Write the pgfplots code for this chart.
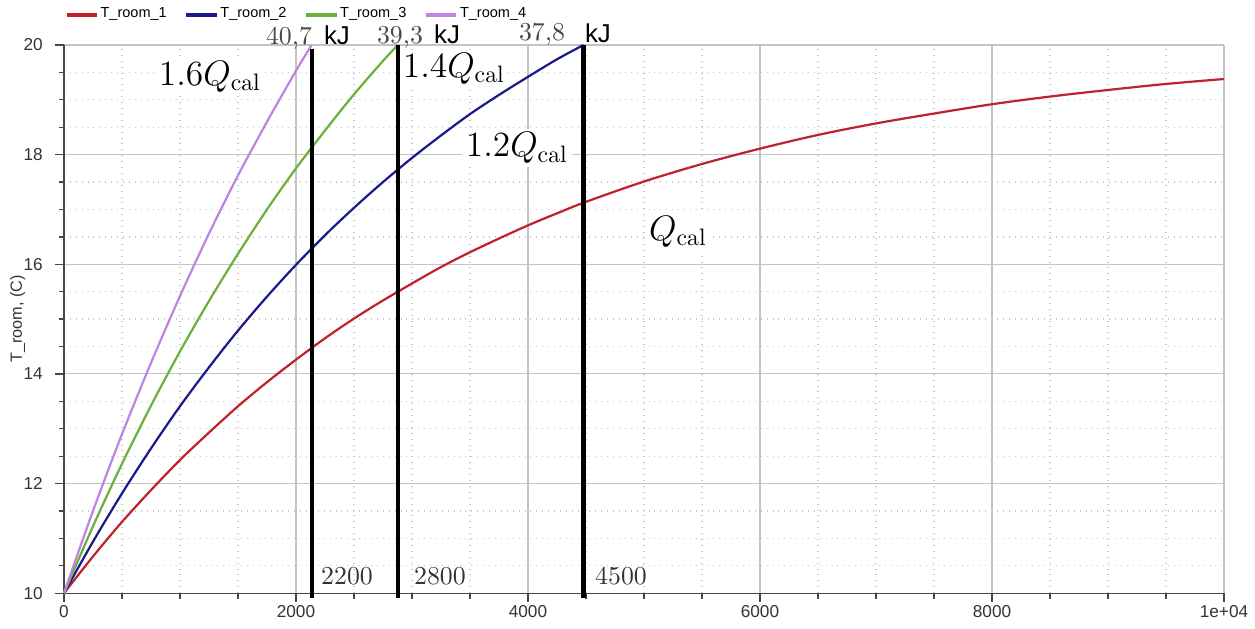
\documentclass[border=0pt]{standalone}
\usepackage{fontspec}
\setsansfont{Liberation Sans}
\usepackage{pgfplots}
\pgfplotsset{compat=1.18}

\definecolor{troomA}{HTML}{C0222C}
\definecolor{troomB}{HTML}{1A1A8A}
\definecolor{troomC}{HTML}{6CB03A}
\definecolor{troomD}{HTML}{BE84E4}
\definecolor{gridmaj}{HTML}{C4C4C4}
\definecolor{gridmin}{HTML}{C8C8C8}

\newcommand{\qlab}[1]{\fontsize{13.8}{15}\selectfont$#1Q_{\mathrm{cal}}$}
\newcommand{\elab}[1]{\fontsize{10.5}{12}\selectfont\color{black!72}#1}
\newcommand{\kj}{\fontsize{10.5}{12}\selectfont\sffamily kJ}
\newcommand{\tlab}[1]{\fontsize{10.5}{12}\selectfont\color{black!80}#1}

\begin{document}
\begin{tikzpicture}
\begin{axis}[
  scale only axis,
  width=471.5pt, height=222.8pt,
  xmin=0, xmax=10000, ymin=10, ymax=20,
  axis lines=left,
  axis line style={-, draw=black!72, line width=0.55pt},
  clip=false,
  xtick={0,2000,4000,6000,8000,10000},
  xticklabels={0,2000,4000,6000,8000,1e+04},
  ytick={10,12,14,16,18,20},
  minor x tick num=3,
  minor y tick num=3,
  tick align=outside,
  major tick length=3.6pt,
  minor tick length=2.2pt,
  tick style={black!72, line width=0.5pt},
  grid=both,
  major grid style={gridmaj, line width=0.45pt},
  minor grid style={gridmin, dotted, line width=0.5pt},
  /pgf/number format/assume math mode=true,
  ticklabel style={font=\sffamily\fontsize{7}{8}\selectfont, text=black!80},
  xticklabel style={yshift=2pt},
  yticklabel style={xshift=-1.5pt},
  ylabel={T\_room, (C)},
  ylabel style={font=\sffamily\fontsize{6.6}{8}\selectfont, text=black!80,
    at={(axis description cs:-0.040,0.5)}, anchor=center},
  legend columns=-1,
  legend style={draw=none, fill=none, inner sep=0pt,
    at={(axis description cs:0,1)}, anchor=west, yshift=12.3pt,
    font=\sffamily\fontsize{5.9}{7}\selectfont,
    /tikz/every even column/.append style={column sep=6.5pt},
    nodes={inner xsep=0.6pt}},
  legend image code/.code={\draw[#1, line width=1.7pt] (0pt,0pt) -- (12.4pt,0pt);},
]

% heating curves: room temperature against time
\addplot[troomA, line width=0.9pt, smooth] coordinates {
  (0,10.00) (250,10.67) (500,11.30) (750,11.88) (1000,12.43) (1250,12.93)
  (1500,13.41) (1750,13.85) (2000,14.26) (2250,14.65) (2500,15.01)
  (2750,15.34) (3000,15.65) (3250,15.95) (3500,16.22) (3750,16.47)
  (4000,16.71) (4250,16.93) (4500,17.14) (5000,17.51) (5500,17.83)
  (6000,18.11) (6500,18.36) (7000,18.57) (7500,18.75) (8000,18.92)
  (8500,19.06) (9000,19.18) (9500,19.29) (10000,19.38)};
\addlegendentry{T\_room\_1}

\addplot[troomB, line width=0.9pt, smooth] coordinates {
  (0,10.00) (250,10.94) (500,11.82) (750,12.64) (1000,13.41) (1250,14.12)
  (1500,14.79) (1750,15.41) (2000,15.99) (2250,16.53) (2500,17.03)
  (2750,17.50) (3000,17.94) (3250,18.35) (3500,18.74) (3750,19.09)
  (4000,19.42) (4250,19.74) (4478,20.00)};
\addlegendentry{T\_room\_2}

\addplot[troomC, line width=0.9pt, smooth] coordinates {
  (0,10.00) (250,11.22) (500,12.36) (750,13.42) (1000,14.41) (1250,15.33)
  (1500,16.19) (1750,17.00) (2000,17.75) (2250,18.44) (2500,19.10)
  (2750,19.71) (2877,20.00)};
\addlegendentry{T\_room\_3}

\addplot[troomD, line width=0.9pt, smooth] coordinates {
  (0,10.00) (250,11.50) (500,12.90) (750,14.20) (1000,15.42) (1250,16.56)
  (1500,17.62) (1750,18.60) (2000,19.53) (2135,20.00)};
\addlegendentry{T\_room\_4}

% heating times at which each case reaches 20 C
\addplot[black, line width=1.7pt, forget plot] coordinates {(2135,9.92) (2135,19.92)};
\addplot[black, line width=1.7pt, forget plot] coordinates {(2877,9.92) (2877,20.0)};
\addplot[black, line width=1.7pt, forget plot] coordinates {(4478,9.92) (4478,20.0)};

% heating power labels
\node[fill=white, inner sep=1.5pt] at (axis cs:1259,19.42) {\qlab{1.6}};
\node[fill=white, inner sep=0.6pt, anchor=west] at (axis cs:2905,19.57) {\qlab{1.4}\hspace{6pt}};
\node[fill=white, inner sep=1.5pt] at (axis cs:3905,18.12) {\qlab{1.2}};
\node[fill=white, inner sep=1.5pt] at (axis cs:5293,16.59) {\qlab{}};

% energy labels
\node at (axis cs:1940,20.12) {\elab{40,7}};
\node at (axis cs:2353,20.17) {\kj};
\node at (axis cs:2897,20.14) {\elab{39,3}};
\node at (axis cs:3302,20.19) {\kj};
\node at (axis cs:4121,20.20) {\elab{37,8}};
\node at (axis cs:4603,20.22) {\kj};

% time labels
\node at (axis cs:2440,10.31) {\tlab{2200}};
\node at (axis cs:3241,10.31) {\tlab{2800}};
\node at (axis cs:4802,10.31) {\tlab{4500}};
\end{axis}
\pgfresetboundingbox
\path ([shift={(-26pt,-14.2pt)}]current axis.south west)
  rectangle ([shift={(12.6pt,18.3pt)}]current axis.north east);
\end{tikzpicture}
\end{document}
